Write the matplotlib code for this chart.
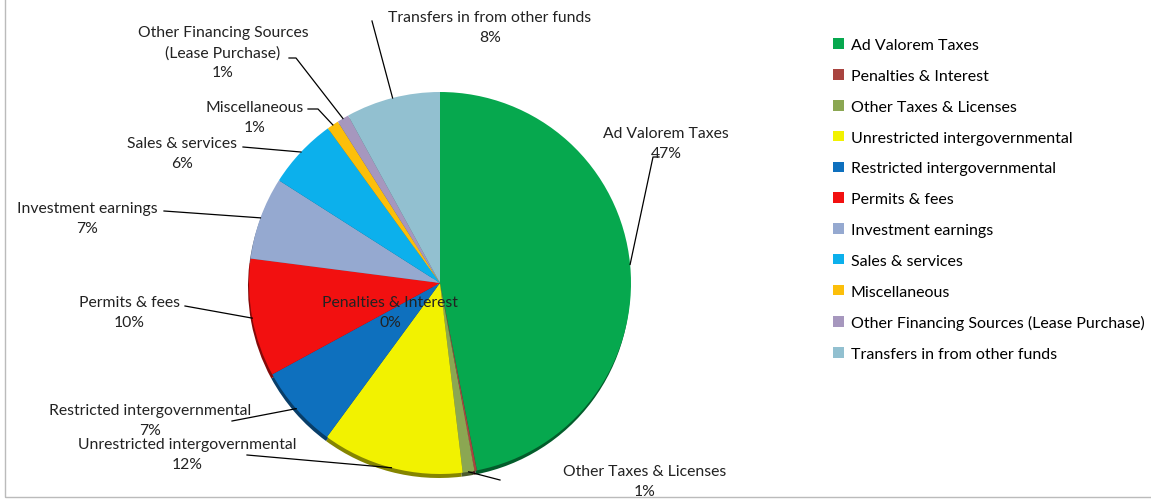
import numpy as np
import matplotlib
matplotlib.use("Agg")
import matplotlib.pyplot as plt
from matplotlib.patches import Rectangle

plt.rcParams['font.family'] = ['Lato', 'DejaVu Sans']

categories = ["Ad Valorem Taxes", "Penalties & Interest", "Other Taxes & Licenses",
              "Unrestricted intergovernmental", "Restricted intergovernmental",
              "Permits & fees", "Investment earnings", "Sales & services",
              "Miscellaneous", "Other Financing Sources (Lease Purchase)",
              "Transfers in from other funds"]
values = [47, 0.2, 1, 12, 7, 10, 7, 6, 1, 1, 8]
pct_labels = ["47%", "0%", "1%", "12%", "7%", "10%", "7%", "6%", "1%", "1%", "8%"]
slice_labels = ["Ad Valorem Taxes", "Penalties & Interest", "Other Taxes & Licenses",
                "Unrestricted intergovernmental", "Restricted intergovernmental",
                "Permits & fees", "Investment earnings", "Sales & services",
                "Miscellaneous", "Other Financing Sources\n(Lease Purchase)",
                "Transfers in from other funds"]
colors = ["#06A84E", "#A9443F", "#8BA752", "#F2F200", "#0E70BE", "#F21010",
          "#95A9D0", "#0CB0EC", "#FCBF0A", "#A697BE", "#92C0D0"]

W, H = 1151, 502
fig = plt.figure(figsize=(W / 100, H / 100), dpi=100)
ax = fig.add_axes([0, 0, 1, 1])
ax.set_xlim(0, W)
ax.set_ylim(0, H)
ax.set_aspect("equal")
ax.axis("off")

def px(x, y):
    return x, H - y

cx, cy = px(440, 284)
R = 191

# shadow for the 3D look
shade = [tuple(c * 0.55 for c in matplotlib.colors.to_rgb(col)) for col in colors]
ax.pie(values, colors=shade, startangle=90, counterclock=False,
       radius=R, center=(cx - 1, cy - 4), wedgeprops=dict(linewidth=0))
wedges, _ = ax.pie(values, colors=colors, startangle=90, counterclock=False,
                   radius=R, center=(cx, cy), wedgeprops=dict(linewidth=0))
ax.set_xlim(0, W)
ax.set_ylim(0, H)

# label text centre, and the path of the leader line (text end first)
label_pos = [(666, 144), (390, 313), (645, 482), (187, 455), (150, 421),
             (129, 313), (87, 219), (182, 154), (255, 118), (223, 53), (490, 28)]
leaders = [
    [(659, 158), (653, 158)],
    None,
    [(500, 481)],
    [(247, 456)],
    [(232, 422)],
    [(185, 307)],
    [(164, 212)],
    [(243, 148)],
    [(308, 110), (318, 110)],
    [(289, 59), (296, 59)],
    [(372, 22)],
]

for w, lab, pct, pos, path in zip(wedges, slice_labels, pct_labels, label_pos, leaders):
    ax.text(*px(*pos), lab + "\n" + pct, ha="center", va="center",
            fontsize=11.3, linespacing=1.55, color="#222222")
    if path is None:
        continue
    mid = np.deg2rad((w.theta1 + w.theta2) / 2)
    ex, ey = cx + R * np.cos(mid), cy + R * np.sin(mid)
    pts = [px(*p) for p in path] + [(ex, ey)]
    ax.plot([p[0] for p in pts], [p[1] for p in pts], color="black", lw=0.9)

leg = ax.legend(wedges, categories, loc="upper left", bbox_to_anchor=(819 / W, 1 - 25 / H),
                frameon=False, fontsize=11.5, handlelength=0.65, handleheight=0.65,
                handletextpad=0.45, labelspacing=1.05)

fig.patches.append(Rectangle((5 / W, 4 / H), 1, 1, transform=fig.transFigure,
                             fill=False, edgecolor="#BBBBBB", lw=1))

fig.savefig("out.png", dpi=100)
